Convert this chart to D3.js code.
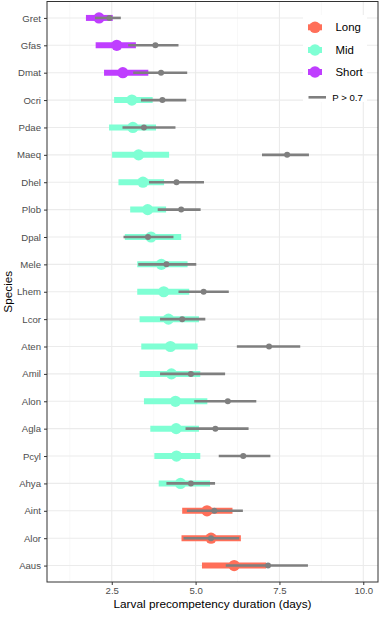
<!DOCTYPE html>
<html>
<head>
<meta charset="utf-8">
<script src="https://cdn.jsdelivr.net/npm/d3@7"></script>
<style>
  body { margin: 0; background: #fff; }
  svg text { font-family: "Liberation Sans", Arial, sans-serif; }
</style>
</head>
<body>
<div id="chart"></div>
<script>
// species, top to bottom
const species = ["Gret","Gfas","Dmat","Ocri","Pdae","Maeq","Dhel","Plob","Dpal","Mele",
                 "Lhem","Lcor","Aten","Amil","Alon","Agla","Pcyl","Ahya","Aint","Alor","Aaus"];
const group   = ["Short","Short","Short","Mid","Mid","Mid","Mid","Mid","Mid","Mid",
                 "Mid","Mid","Mid","Mid","Mid","Mid","Mid","Mid","Long","Long","Long"];
// coloured estimates (days)
const estMean = [2.12,2.65,2.83,3.10,3.13,3.30,3.43,3.57,3.67,3.98,4.05,4.19,4.25,4.28,4.40,4.42,4.43,4.55,5.34,5.46,6.15];
const estLo   = [1.73,2.02,2.27,2.57,2.42,2.51,2.70,3.05,2.89,3.26,3.26,3.33,3.38,3.33,3.46,3.65,3.77,3.90,4.60,4.58,5.19];
const estHi   = [2.53,3.22,3.59,3.72,3.82,4.21,4.06,4.12,4.57,4.76,4.81,5.10,5.06,5.14,5.35,5.10,5.14,5.43,6.10,6.35,7.10];
// grey P > 0.7 estimates
const pMean   = [2.43,3.80,3.97,4.01,3.46,7.73,4.43,4.57,3.58,4.13,5.24,4.60,7.19,4.86,5.96,5.59,6.42,4.86,5.56,5.46,7.16];
const pLo     = [2.00,2.99,3.14,3.37,2.82,6.98,3.61,3.87,2.85,3.29,4.49,3.94,6.23,3.94,4.96,4.70,5.69,4.13,4.74,4.64,5.90];
const pHi     = [2.77,4.49,4.75,4.72,4.40,8.38,5.25,5.15,4.34,5.02,5.99,5.29,8.12,5.88,6.81,6.58,7.23,5.58,6.41,6.30,8.35];

const groups   = ["Long","Mid","Short"];
const xTicks   = [2.5, 5.0, 7.5, 10.0];
const xMinor   = [1.25, 3.75, 6.25, 8.75];

const colour = d3.scaleOrdinal().domain(groups).range(["#FF6F59","#7FFFD4","#BF3EFF"]);
const GREY = "#7F7F7F";

const W = 389, H = 620;
const P = { left: 47, right: 378, top: 1.5, bottom: 582 };

const x = d3.scaleLinear().domain([0.569, 10.439]).range([P.left, P.right]);
const y = d3.scalePoint().domain(species).range([P.top, P.bottom]).padding(0.6);

const rows = species.map((s, i) => ({
  s, g: group[i], m: estMean[i], lo: estLo[i], hi: estHi[i],
  pm: pMean[i], plo: pLo[i], phi: pHi[i]
}));

const svg = d3.select("#chart").append("svg").attr("width", W).attr("height", H);

// grid
svg.append("g").selectAll("line").data(xMinor).join("line")
  .attr("x1", d => x(d)).attr("x2", d => x(d)).attr("y1", P.top).attr("y2", P.bottom)
  .attr("stroke", "#f3f3f3").attr("stroke-width", 0.6);
svg.append("g").selectAll("line").data(xTicks).join("line")
  .attr("x1", d => x(d)).attr("x2", d => x(d)).attr("y1", P.top).attr("y2", P.bottom)
  .attr("stroke", "#ebebeb").attr("stroke-width", 1.1);
svg.append("g").selectAll("line").data(species).join("line")
  .attr("x1", P.left).attr("x2", P.right).attr("y1", d => y(d)).attr("y2", d => y(d))
  .attr("stroke", "#ebebeb").attr("stroke-width", 1.1);

// coloured ranges
const est = svg.append("g");
est.selectAll("line").data(rows).join("line")
  .attr("x1", d => x(d.lo)).attr("x2", d => x(d.hi))
  .attr("y1", d => y(d.s)).attr("y2", d => y(d.s))
  .attr("stroke", d => colour(d.g)).attr("stroke-width", 6);
est.selectAll("circle").data(rows).join("circle")
  .attr("cx", d => x(d.m)).attr("cy", d => y(d.s)).attr("r", 5.6)
  .attr("fill", d => colour(d.g));

// grey P > 0.7 ranges
const pg = svg.append("g");
pg.selectAll("line").data(rows).join("line")
  .attr("x1", d => x(d.plo)).attr("x2", d => x(d.phi))
  .attr("y1", d => y(d.s)).attr("y2", d => y(d.s))
  .attr("stroke", GREY).attr("stroke-width", 2.6);
pg.selectAll("circle").data(rows).join("circle")
  .attr("cx", d => x(d.pm)).attr("cy", d => y(d.s)).attr("r", 3)
  .attr("fill", GREY);

// panel border
svg.append("rect")
  .attr("x", P.left).attr("y", P.top)
  .attr("width", P.right - P.left).attr("height", P.bottom - P.top)
  .attr("fill", "none").attr("stroke", "#333").attr("stroke-width", 1);

// axes
svg.append("g").attr("transform", `translate(0,${P.bottom})`)
  .call(d3.axisBottom(x).tickValues(xTicks).tickFormat(d3.format(".1f")).tickSize(3).tickPadding(2))
  .call(ax => ax.select(".domain").remove())
  .call(ax => ax.selectAll("line").attr("stroke", "#333"))
  .call(ax => ax.selectAll("text").attr("fill", "#4d4d4d").attr("font-size", 9.6)
    .style("font-family", "'Liberation Sans', Arial, sans-serif"));

svg.append("g").attr("transform", `translate(${P.left},0)`)
  .call(d3.axisLeft(y).tickSize(3).tickPadding(3))
  .call(ax => ax.select(".domain").remove())
  .call(ax => ax.selectAll("line").attr("stroke", "#333"))
  .call(ax => ax.selectAll("text").attr("fill", "#4d4d4d").attr("font-size", 9.6)
    .style("font-family", "'Liberation Sans', Arial, sans-serif"));

// axis titles
svg.append("text").attr("x", (P.left + P.right) / 2).attr("y", 608)
  .attr("text-anchor", "middle").attr("font-size", 11.8).attr("fill", "#000")
  .text("Larval precompetency duration (days)");
svg.append("text")
  .attr("transform", `translate(12,${(P.top + P.bottom) / 2}) rotate(-90)`)
  .attr("text-anchor", "middle").attr("font-size", 11.8).attr("fill", "#000")
  .text("Species");

// legend
const lg = svg.append("g");
lg.append("rect").attr("x", 303).attr("y", 15).attr("width", 64).attr("height", 87).attr("fill", "#fff");
const legY = [27.3, 50, 72];
groups.forEach((g, i) => {
  lg.append("line").attr("x1", 308).attr("x2", 322).attr("y1", legY[i]).attr("y2", legY[i])
    .attr("stroke", colour(g)).attr("stroke-width", 6);
  lg.append("circle").attr("cx", 315).attr("cy", legY[i]).attr("r", 5.8).attr("fill", colour(g));
  lg.append("text").attr("x", 335.5).attr("y", legY[i]).attr("dy", "0.36em")
    .attr("font-size", 11.4).attr("fill", "#000").text(g);
});
lg.append("line").attr("x1", 308.5).attr("x2", 326).attr("y1", 97.3).attr("y2", 97.3)
  .attr("stroke", GREY).attr("stroke-width", 2.6);
lg.append("text").attr("x", 332.3).attr("y", 97.3).attr("dy", "0.36em")
  .attr("font-size", 9.6).attr("fill", "#000").text("P > 0.7");
</script>
</body>
</html>
